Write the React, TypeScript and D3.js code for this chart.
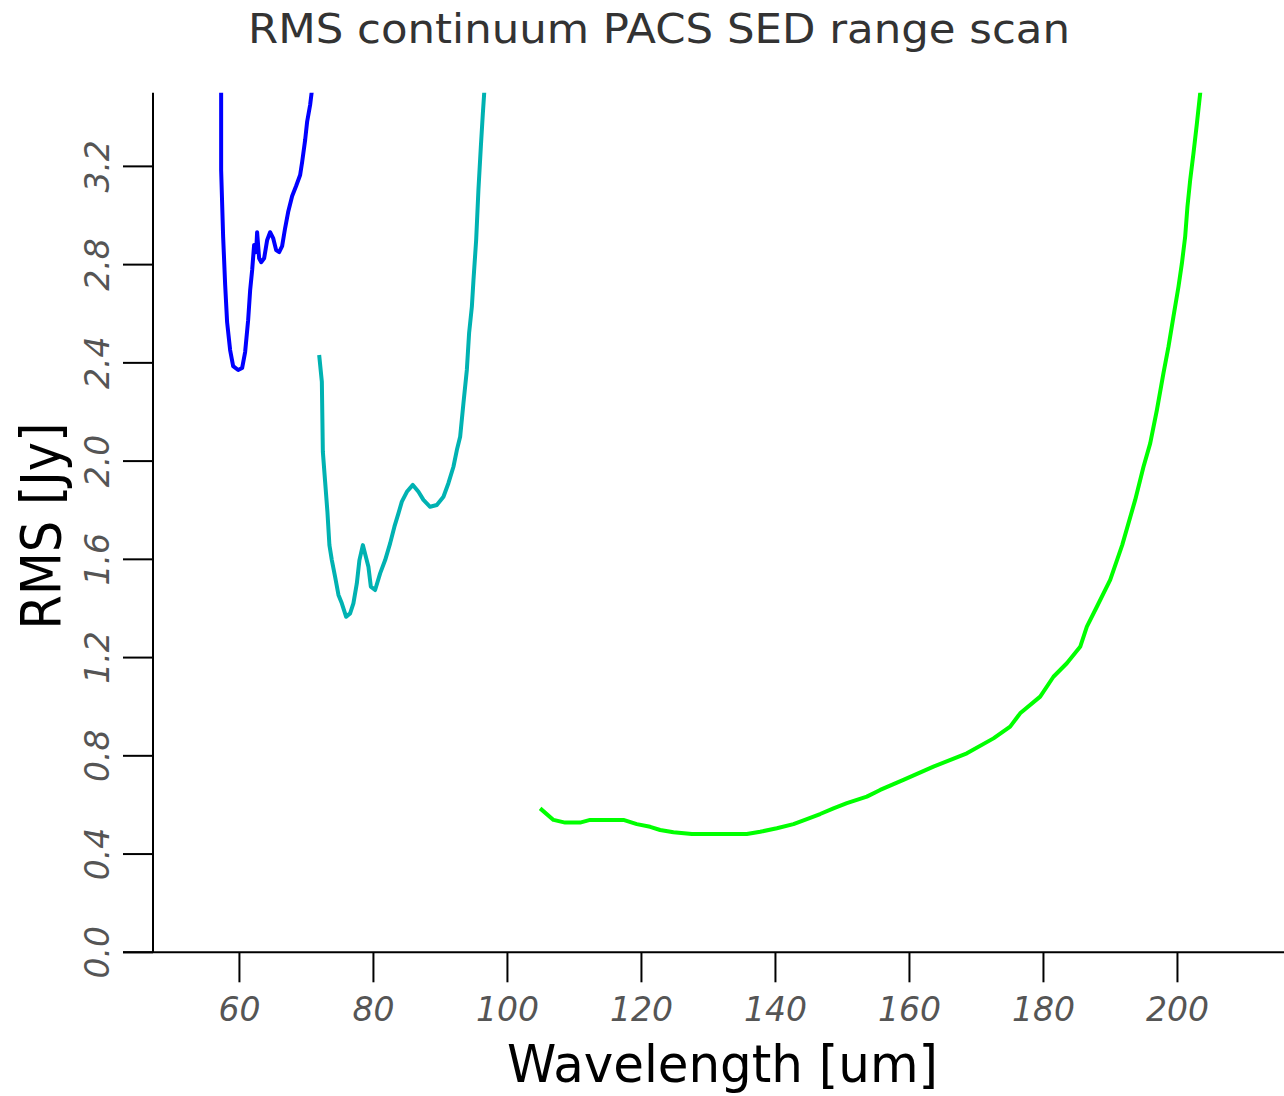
import { useRef, useEffect } from 'react';
import * as d3 from 'd3';

// wavelength [um] and RMS [Jy], one pair of arrays per band
const blueWave = [57.27, 57.27, 57.57, 57.87, 58.16, 58.61, 59.06, 59.81, 60.4, 60.85, 61.3, 61.6, 61.9, 62.19, 62.49, 62.64, 62.94, 63.24, 63.69, 64.13, 64.58, 65.03, 65.48, 65.93, 66.37, 66.82, 67.27, 67.87, 68.46, 69.06, 69.36, 69.81, 70.1, 70.55, 71.0];
const blueRms = [3.63, 3.185, 2.912, 2.717, 2.566, 2.452, 2.387, 2.371, 2.379, 2.444, 2.574, 2.696, 2.778, 2.88, 2.851, 2.932, 2.826, 2.81, 2.826, 2.899, 2.932, 2.908, 2.859, 2.851, 2.875, 2.949, 3.014, 3.079, 3.12, 3.165, 3.218, 3.308, 3.381, 3.45, 3.55];

const cyanWave = [71.9, 72.3, 72.45, 72.79, 73.13, 73.43, 73.79, 74.28, 74.78, 75.28, 75.93, 76.52, 77.01, 77.52, 77.91, 78.42, 79.25, 79.61, 80.25, 81.0, 81.75, 82.49, 83.13, 83.73, 84.24, 84.99, 85.88, 86.72, 87.46, 88.46, 89.46, 90.45, 91.19, 91.94, 92.45, 92.94, 93.43, 93.94, 94.28, 94.69, 94.93, 95.33, 95.67, 96.03, 96.33, 96.53, 96.82];
const cyanRms = [2.432, 2.323, 2.038, 1.916, 1.794, 1.658, 1.597, 1.529, 1.455, 1.421, 1.366, 1.38, 1.421, 1.502, 1.597, 1.658, 1.57, 1.489, 1.475, 1.543, 1.597, 1.665, 1.733, 1.787, 1.835, 1.875, 1.903, 1.875, 1.842, 1.814, 1.821, 1.855, 1.91, 1.977, 2.045, 2.099, 2.235, 2.371, 2.522, 2.629, 2.737, 2.9, 3.104, 3.28, 3.416, 3.498, 3.63];

const greenWave = [104.88, 106.87, 108.61, 110.84, 112.34, 117.31, 119.31, 121.3, 122.79, 124.78, 127.52, 135.73, 137.72, 140.21, 142.69, 144.69, 146.67, 148.66, 150.66, 153.64, 155.63, 159.1, 163.58, 168.57, 172.54, 175.03, 176.52, 179.51, 181.49, 183.49, 185.48, 186.48, 187.97, 189.96, 191.75, 193.69, 194.93, 195.93, 196.93, 197.91, 198.66, 199.4, 200.15, 200.66, 201.15, 201.49, 201.9, 202.39, 202.9, 203.39, 203.84];
const greenRms = [0.586, 0.539, 0.528, 0.528, 0.539, 0.539, 0.522, 0.511, 0.498, 0.489, 0.482, 0.482, 0.491, 0.505, 0.522, 0.542, 0.563, 0.586, 0.607, 0.634, 0.661, 0.702, 0.756, 0.81, 0.871, 0.919, 0.973, 1.041, 1.122, 1.177, 1.244, 1.326, 1.407, 1.516, 1.658, 1.842, 1.977, 2.072, 2.208, 2.358, 2.466, 2.588, 2.71, 2.805, 2.914, 3.036, 3.145, 3.253, 3.375, 3.498, 3.63];

const xTicks = [60, 80, 100, 120, 140, 160, 180, 200];
const yTicks = [0.0, 0.4, 0.8, 1.2, 1.6, 2.0, 2.4, 2.8, 3.2];

const series = [
  { wave: blueWave, rms: blueRms, color: '#0000ff' },
  { wave: cyanWave, rms: cyanRms, color: 'rgb(0,178,178)' },
  { wave: greenWave, rms: greenRms, color: '#00ff00' },
];

const W = 1284;
const H = 1096;

const App = () => {
  const svgRef = useRef<SVGSVGElement>(null);

  useEffect(() => {
    const svg = d3.select(svgRef.current);
    svg.selectAll('*').remove();

    const plot = { left: 153, right: 1284, top: 92.7, bottom: 952.3 };
    const tickLen = 30;

    const x = d3.scaleLinear().domain([47.1, 215.9]).range([plot.left, plot.right]);
    const y = d3.scaleLinear().domain([0, 3.5]).range([plot.bottom, plot.top]);

    svg.append('defs').append('clipPath')
      .attr('id', 'plot-clip')
      .append('rect')
      .attr('x', plot.left)
      .attr('y', plot.top)
      .attr('width', plot.right - plot.left)
      .attr('height', plot.bottom - plot.top);

    // title
    svg.append('text')
      .attr('x', 659)
      .attr('y', 42.5)
      .attr('text-anchor', 'middle')
      .attr('font-family', 'DejaVu Sans, sans-serif')
      .attr('font-size', 40)
      .attr('fill', '#333')
      .attr('textLength', 822)
      .attr('lengthAdjust', 'spacingAndGlyphs')
      .text('RMS continuum PACS SED range scan');

    // curves
    const line = d3.line<[number, number]>()
      .x(d => x(d[0]))
      .y(d => y(d[1]));

    const curves = svg.append('g').attr('clip-path', 'url(#plot-clip)');
    series.forEach(s => {
      const pts = s.wave.map((w, i) => [w, s.rms[i]] as [number, number]);
      curves.append('path')
        .attr('d', line(pts))
        .attr('fill', 'none')
        .attr('stroke', s.color)
        .attr('stroke-width', 4)
        .attr('stroke-linejoin', 'round');
    });

    const axes = svg.append('g').attr('stroke', '#000').attr('stroke-width', 2);

    // y axis
    axes.append('line')
      .attr('x1', plot.left).attr('x2', plot.left)
      .attr('y1', plot.top).attr('y2', plot.bottom);
    axes.selectAll('line.ytick')
      .data(yTicks)
      .join('line')
      .attr('class', 'ytick')
      .attr('x1', plot.left - tickLen).attr('x2', plot.left)
      .attr('y1', d => y(d)).attr('y2', d => y(d));

    // x axis
    axes.append('line')
      .attr('x1', plot.left - tickLen).attr('x2', plot.right)
      .attr('y1', plot.bottom).attr('y2', plot.bottom);
    axes.selectAll('line.xtick')
      .data(xTicks)
      .join('line')
      .attr('class', 'xtick')
      .attr('x1', d => x(d)).attr('x2', d => x(d))
      .attr('y1', plot.bottom).attr('y2', plot.bottom + tickLen);

    const tickFont = (sel: d3.Selection<any, any, any, any>) => sel
      .attr('font-family', 'DejaVu Sans, sans-serif')
      .attr('font-style', 'italic')
      .attr('font-size', 33)
      .attr('fill', '#555')
      .attr('text-anchor', 'middle');

    svg.append('g').selectAll('text')
      .data(xTicks)
      .join('text')
      .attr('x', d => x(d))
      .attr('y', 1020.5)
      .call(tickFont)
      .text(d => d3.format('d')(d));

    svg.append('g').selectAll('text')
      .data(yTicks)
      .join('text')
      .attr('transform', d => `translate(109,${y(d)}) rotate(-90)`)
      .call(tickFont)
      .text(d => d3.format('.1f')(d));

    // axis titles
    svg.append('text')
      .attr('x', 722.5)
      .attr('y', 1082)
      .attr('text-anchor', 'middle')
      .attr('font-family', 'DejaVu Sans, sans-serif')
      .attr('font-size', 52)
      .attr('fill', '#000')
      .attr('textLength', 431)
      .attr('lengthAdjust', 'spacingAndGlyphs')
      .text('Wavelength [um]');

    svg.append('text')
      .attr('transform', 'translate(60,526) rotate(-90)')
      .attr('text-anchor', 'middle')
      .attr('font-family', 'DejaVu Sans, sans-serif')
      .attr('font-size', 56)
      .attr('fill', '#000')
      .attr('textLength', 207)
      .attr('lengthAdjust', 'spacingAndGlyphs')
      .text('RMS [Jy]');
  }, []);

  return (
    <svg
      ref={svgRef}
      width={W}
      height={H}
      style={{ position: 'absolute', left: 0, top: 0, background: '#fff' }}
    />
  );
};

export default App;
